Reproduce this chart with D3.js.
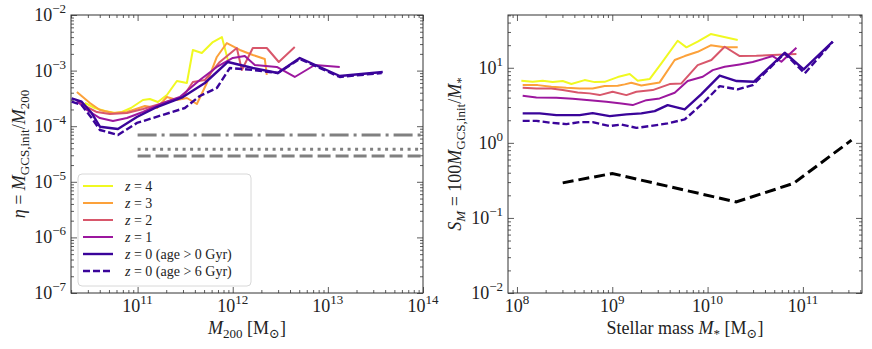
<!DOCTYPE html>
<html>
<head>
<meta charset="utf-8">
<script src="https://cdn.jsdelivr.net/npm/d3@7"></script>
<style>
  body { margin: 0; background: #fff; }
  svg text { font-family: "Liberation Serif", "DejaVu Serif", serif; fill: #222; }
</style>
</head>
<body>
<div id="chart"></div>
<script>
// ---- data (log10 values) ----
const seriesNames = ["z4", "z3", "z2", "z1", "z0", "z0old"];
const seriesColors = ["#f0f921", "#fca13a", "#d8576b", "#9c179e", "#3a049a", "#3a049a"];
const legendLabels = [["4", ""], ["3", ""], ["2", ""], ["1", ""], ["0", " (age > 0 Gyr)"], ["0", " (age > 6 Gyr)"]];

// left panel: log10 M200 and log10 eta
const haloLogM_z4 = [10.446, 10.551, 10.657, 10.762, 10.835, 10.930, 11.056, 11.129, 11.213, 11.308, 11.413, 11.518, 11.581, 11.675, 11.791, 11.886, 11.949];
const etaLog_z4   = [-3.583, -3.673, -3.727, -3.763, -3.745, -3.673, -3.529, -3.511, -3.565, -3.439, -3.187, -3.223, -2.629, -2.683, -2.486, -2.396, -2.809];
const haloLogM_z3 = [10.362, 10.499, 10.604, 10.741, 10.888, 11.077, 11.203, 11.308, 11.413, 11.518, 11.623, 11.728, 11.833, 11.938, 12.075, 12.211, 12.337, 12.358];
const etaLog_z3   = [-3.385, -3.583, -3.709, -3.763, -3.745, -3.637, -3.673, -3.475, -3.529, -3.493, -3.601, -3.223, -2.755, -2.504, -2.629, -2.719, -2.791, -3.079];
const haloLogM_z2 = [10.362, 10.467, 10.572, 10.709, 10.888, 11.056, 11.234, 11.371, 11.476, 11.581, 11.707, 11.864, 12.043, 12.096, 12.211, 12.358, 12.484, 12.652];
const etaLog_z2   = [-3.529, -3.655, -3.745, -3.781, -3.763, -3.691, -3.601, -3.529, -3.475, -3.205, -3.169, -2.845, -2.594, -2.989, -2.594, -2.594, -2.845, -2.576];
const haloLogM_z1 = [10.362, 10.467, 10.604, 10.741, 10.888, 11.056, 11.266, 11.444, 11.654, 11.833, 12.001, 12.127, 12.232, 12.463, 12.652, 12.862, 13.125];
const etaLog_z1   = [-3.547, -3.709, -3.853, -3.906, -3.853, -3.745, -3.583, -3.475, -3.169, -2.935, -2.773, -2.737, -2.899, -2.935, -3.115, -2.899, -2.935];
const haloLogM_z0 = [10.307, 10.412, 10.517, 10.604, 10.793, 10.993, 11.203, 11.476, 11.707, 11.949, 12.211, 12.474, 12.705, 13.125, 13.577];
const etaLog_z0   = [-3.498, -3.559, -3.763, -4.009, -4.050, -3.835, -3.655, -3.475, -3.223, -2.845, -2.953, -3.043, -2.773, -3.097, -3.025];
const haloLogM_z0old = [10.307, 10.412, 10.517, 10.604, 10.793, 10.993, 11.497, 11.654, 11.833, 11.970, 12.211, 12.474, 12.705, 13.125, 13.566];
const etaLog_z0old   = [-3.559, -3.619, -3.853, -4.068, -4.158, -3.942, -3.673, -3.457, -3.313, -2.953, -2.989, -3.043, -2.791, -3.115, -3.043];

// horizontal reference levels (eta), drawn from 1e11 upward
const refEta = [6.95e-5, 3.84e-5, 2.91e-5];
const refDash = ["19,5,3,5", "3,4.5", "13,5"];
const refStartM = 1e11;

// right panel: log10 M* and log10 S_M
const starLogM_z4 = [8.046, 8.165, 8.270, 8.375, 8.480, 8.571, 8.710, 8.815, 8.920, 9.057, 9.183, 9.267, 9.392, 9.515, 9.686, 9.778, 9.896, 10.033, 10.316];
const sLog_z4     = [0.827, 0.813, 0.827, 0.809, 0.823, 0.783, 0.836, 0.809, 0.813, 0.876, 0.916, 0.827, 0.849, 1.059, 1.360, 1.272, 1.347, 1.449, 1.369];
const starLogM_z3 = [8.060, 8.217, 8.361, 8.518, 8.658, 8.794, 8.920, 9.057, 9.130, 9.200, 9.305, 9.497, 9.655, 9.760, 9.896, 10.033, 10.179, 10.316];
const sLog_z3     = [0.769, 0.769, 0.747, 0.733, 0.725, 0.725, 0.756, 0.760, 0.779, 0.800, 0.765, 0.805, 1.103, 1.156, 1.213, 1.299, 1.272, 1.272];
const starLogM_z2 = [8.060, 8.204, 8.361, 8.480, 8.637, 8.763, 8.868, 9.004, 9.148, 9.253, 9.424, 9.602, 9.725, 9.896, 10.040, 10.179, 10.337, 10.512, 10.683, 10.932];
const sLog_z2     = [0.733, 0.725, 0.725, 0.703, 0.672, 0.659, 0.636, 0.680, 0.636, 0.680, 0.703, 0.783, 0.792, 1.036, 1.103, 1.280, 1.156, 1.160, 1.169, 1.183];
const starLogM_z1 = [8.060, 8.204, 8.413, 8.584, 8.763, 8.938, 9.095, 9.214, 9.358, 9.497, 9.655, 9.791, 9.949, 10.054, 10.179, 10.337, 10.473, 10.683, 10.774, 10.932];
const sLog_z1     = [0.627, 0.605, 0.600, 0.587, 0.569, 0.547, 0.525, 0.503, 0.569, 0.592, 0.667, 0.823, 0.880, 0.969, 1.013, 1.045, 1.076, 1.156, 1.080, 1.267];
const starLogM_z0 = [8.060, 8.238, 8.413, 8.658, 8.794, 8.973, 9.148, 9.305, 9.445, 9.581, 9.760, 9.935, 10.127, 10.305, 10.484, 10.652, 10.809, 11.008, 11.313];
const sLog_z0     = [0.392, 0.392, 0.369, 0.369, 0.396, 0.356, 0.379, 0.392, 0.423, 0.503, 0.445, 0.649, 0.896, 0.823, 0.813, 1.013, 1.200, 0.979, 1.347];
const starLogM_z0old = [8.060, 8.204, 8.361, 8.518, 8.658, 8.794, 8.973, 9.095, 9.253, 9.392, 9.581, 9.760, 9.949, 10.127, 10.316, 10.473, 10.652, 10.809, 11.019, 11.313];
const sLog_z0old     = [0.293, 0.293, 0.267, 0.249, 0.276, 0.276, 0.223, 0.245, 0.200, 0.223, 0.259, 0.312, 0.525, 0.756, 0.712, 0.769, 0.996, 1.192, 0.925, 1.347];

// observed relation (black dashed)
const obsLogM = [8.48, 9.00, 10.30, 10.90, 11.51];
const obsLogS = [-0.533, -0.408, -0.787, -0.541, 0.036];

const leftX = { z4: haloLogM_z4, z3: haloLogM_z3, z2: haloLogM_z2, z1: haloLogM_z1, z0: haloLogM_z0, z0old: haloLogM_z0old };
const leftY = { z4: etaLog_z4, z3: etaLog_z3, z2: etaLog_z2, z1: etaLog_z1, z0: etaLog_z0, z0old: etaLog_z0old };
const rightX = { z4: starLogM_z4, z3: starLogM_z3, z2: starLogM_z2, z1: starLogM_z1, z0: starLogM_z0, z0old: starLogM_z0old };
const rightY = { z4: sLog_z4, z3: sLog_z3, z2: sLog_z2, z1: sLog_z1, z0: sLog_z0, z0old: sLog_z0old };

// ---- layout ----
const W = 872, H = 349;
const svg = d3.select("#chart").append("svg").attr("width", W).attr("height", H);

const leftPanel = { x0: 71, x1: 423, y0: 15, y1: 293,
  xDom: [Math.pow(10, 10.3), 1e14], yDom: [1e-7, 1e-2],
  xMajor: [11, 12, 13, 14], yMajor: [-7, -6, -5, -4, -3, -2] };
const rightPanel = { x0: 508, x1: 862, y0: 15, y1: 293,
  xDom: [Math.pow(10, 7.906), Math.pow(10, 11.62)], yDom: [1e-2, Math.pow(10, 1.703)],
  xMajor: [8, 9, 10, 11], yMajor: [-2, -1, 0, 1] };

function minorTicks(dom) {
  const out = [];
  const lo = Math.floor(Math.log10(dom[0])), hi = Math.ceil(Math.log10(dom[1]));
  for (let e = lo; e <= hi; e++) {
    for (let m = 2; m <= 9; m++) {
      const v = m * Math.pow(10, e);
      if (v >= dom[0] && v <= dom[1]) out.push(v);
    }
  }
  return out;
}

function powLabel(sel, exp, anchor) {
  sel.attr("text-anchor", anchor).attr("font-size", 18);
  sel.append("tspan").text("10");
  sel.append("tspan").attr("dy", -8).attr("font-size", 13).text(exp < 0 ? "\u2212" + (-exp) : String(exp));
}

function drawFrame(p) {
  const x = d3.scaleLog().domain(p.xDom).range([p.x0, p.x1]);
  const y = d3.scaleLog().domain(p.yDom).range([p.y1, p.y0]);
  const g = svg.append("g");
  const xMaj = p.xMajor.map(e => Math.pow(10, e));
  const yMaj = p.yMajor.map(e => Math.pow(10, e));
  const xMin = minorTicks(p.xDom), yMin = minorTicks(p.yDom);
  const tickStyle = s => s.call(a => a.select(".domain").remove())
    .selectAll("line").attr("stroke", "#333").attr("stroke-width", 0.8);

  g.append("g").attr("transform", `translate(0,${p.y1})`)
    .call(d3.axisBottom(x).tickValues(xMaj).tickSize(-6).tickFormat("")).call(tickStyle);
  g.append("g").attr("transform", `translate(0,${p.y1})`)
    .call(d3.axisBottom(x).tickValues(xMin).tickSize(-3).tickFormat("")).call(tickStyle);
  g.append("g").attr("transform", `translate(0,${p.y0})`)
    .call(d3.axisTop(x).tickValues(xMaj).tickSize(-6).tickFormat("")).call(tickStyle);
  g.append("g").attr("transform", `translate(0,${p.y0})`)
    .call(d3.axisTop(x).tickValues(xMin).tickSize(-3).tickFormat("")).call(tickStyle);
  g.append("g").attr("transform", `translate(${p.x0},0)`)
    .call(d3.axisLeft(y).tickValues(yMaj).tickSize(-6).tickFormat("")).call(tickStyle);
  g.append("g").attr("transform", `translate(${p.x0},0)`)
    .call(d3.axisLeft(y).tickValues(yMin).tickSize(-3).tickFormat("")).call(tickStyle);
  g.append("g").attr("transform", `translate(${p.x1},0)`)
    .call(d3.axisRight(y).tickValues(yMaj).tickSize(-6).tickFormat("")).call(tickStyle);
  g.append("g").attr("transform", `translate(${p.x1},0)`)
    .call(d3.axisRight(y).tickValues(yMin).tickSize(-3).tickFormat("")).call(tickStyle);

  g.append("rect").attr("x", p.x0).attr("y", p.y0)
    .attr("width", p.x1 - p.x0).attr("height", p.y1 - p.y0)
    .attr("fill", "none").attr("stroke", "#333").attr("stroke-width", 1);

  p.xMajor.forEach(e => {
    g.append("text").attr("x", x(Math.pow(10, e))).attr("y", p.y1 + 19).call(s => powLabel(s, e, "middle"));
  });
  p.yMajor.forEach(e => {
    g.append("text").attr("x", p.x0 - 5).attr("y", y(Math.pow(10, e)) + 6).call(s => powLabel(s, e, "end"));
  });
  return { x, y, g };
}

svg.append("clipPath").attr("id", "clipL").append("rect")
  .attr("x", leftPanel.x0).attr("y", leftPanel.y0)
  .attr("width", leftPanel.x1 - leftPanel.x0).attr("height", leftPanel.y1 - leftPanel.y0);
svg.append("clipPath").attr("id", "clipR").append("rect")
  .attr("x", rightPanel.x0).attr("y", rightPanel.y0)
  .attr("width", rightPanel.x1 - rightPanel.x0).attr("height", rightPanel.y1 - rightPanel.y0);

// ---- left panel ----
const L = drawFrame(leftPanel);
const lLines = svg.append("g").attr("clip-path", "url(#clipL)");

refEta.forEach((v, i) => {
  lLines.append("line")
    .attr("x1", L.x(refStartM)).attr("x2", L.x(leftPanel.xDom[1]))
    .attr("y1", L.y(v)).attr("y2", L.y(v))
    .attr("stroke", "#808080").attr("stroke-width", 3)
    .attr("stroke-dasharray", refDash[i]);
});

seriesNames.forEach((name, i) => {
  const xs = leftX[name], ys = leftY[name];
  const pts = xs.map((lx, k) => [Math.pow(10, lx), Math.pow(10, ys[k])]);
  lLines.append("path")
    .attr("d", d3.line().x(d => L.x(d[0])).y(d => L.y(d[1]))(pts))
    .attr("fill", "none").attr("stroke", seriesColors[i])
    .attr("stroke-width", i >= 4 ? 2.4 : 2)
    .attr("stroke-linejoin", "round")
    .attr("stroke-dasharray", name === "z0old" ? "7,3" : null);
});

// ---- right panel ----
const R = drawFrame(rightPanel);
const rLines = svg.append("g").attr("clip-path", "url(#clipR)");

seriesNames.forEach((name, i) => {
  const xs = rightX[name], ys = rightY[name];
  const pts = xs.map((lx, k) => [Math.pow(10, lx), Math.pow(10, ys[k])]);
  rLines.append("path")
    .attr("d", d3.line().x(d => R.x(d[0])).y(d => R.y(d[1]))(pts))
    .attr("fill", "none").attr("stroke", seriesColors[i])
    .attr("stroke-width", i >= 4 ? 2.4 : 2)
    .attr("stroke-linejoin", "round")
    .attr("stroke-dasharray", name === "z0old" ? "7,3" : null);
});

const obsPts = obsLogM.map((m, k) => [Math.pow(10, m), Math.pow(10, obsLogS[k])]);
rLines.append("path")
  .attr("d", d3.line().x(d => R.x(d[0])).y(d => R.y(d[1]))(obsPts))
  .attr("fill", "none").attr("stroke", "#000").attr("stroke-width", 3)
  .attr("stroke-dasharray", "11,5");

// ---- legend ----
const leg = svg.append("g").attr("transform", "translate(78,174)");
leg.append("rect").attr("width", 173).attr("height", 112).attr("rx", 4)
  .attr("fill", "#fff").attr("fill-opacity", 0.8).attr("stroke", "#d8d8d8");
legendLabels.forEach((lab, i) => {
  const yy = 12 + i * 17;
  leg.append("line").attr("x1", 5).attr("x2", 35).attr("y1", yy).attr("y2", yy)
    .attr("stroke", seriesColors[i]).attr("stroke-width", i >= 4 ? 2.4 : 2)
    .attr("stroke-dasharray", i === 5 ? "7,3" : null);
  const t = leg.append("text").attr("x", 47).attr("y", yy + 5).attr("font-size", 14);
  t.append("tspan").attr("font-style", "italic").text("z");
  t.append("tspan").text(" = " + lab[0] + lab[1]);
});

// ---- axis titles ----
const xt1 = svg.append("text").attr("x", (leftPanel.x0 + leftPanel.x1) / 2).attr("y", 334)
  .attr("text-anchor", "middle").attr("font-size", 18);
xt1.append("tspan").attr("font-style", "italic").text("M");
xt1.append("tspan").attr("dy", 4).attr("font-size", 13).text("200");
xt1.append("tspan").attr("dy", -4).text(" [M");
xt1.append("tspan").attr("dy", 4).attr("font-size", 13).text("\u2299");
xt1.append("tspan").attr("dy", -4).text("]");

const xt2 = svg.append("text").attr("x", (rightPanel.x0 + rightPanel.x1) / 2).attr("y", 334)
  .attr("text-anchor", "middle").attr("font-size", 18);
xt2.append("tspan").text("Stellar mass ");
xt2.append("tspan").attr("font-style", "italic").text("M");
xt2.append("tspan").attr("dy", 4).attr("font-size", 13).text("*");
xt2.append("tspan").attr("dy", -4).text(" [M");
xt2.append("tspan").attr("dy", 4).attr("font-size", 13).text("\u2299");
xt2.append("tspan").attr("dy", -4).text("]");

const yt1 = svg.append("text").attr("transform", `translate(25,${(leftPanel.y0 + leftPanel.y1) / 2}) rotate(-90)`)
  .attr("text-anchor", "middle").attr("font-size", 18);
yt1.append("tspan").attr("font-style", "italic").text("\u03b7");
yt1.append("tspan").text(" = ");
yt1.append("tspan").attr("font-style", "italic").text("M");
yt1.append("tspan").attr("dy", 4).attr("font-size", 13).text("GCS,init");
yt1.append("tspan").attr("dy", -4).text("/");
yt1.append("tspan").attr("font-style", "italic").text("M");
yt1.append("tspan").attr("dy", 4).attr("font-size", 13).text("200");

const yt2 = svg.append("text").attr("transform", `translate(461,${(rightPanel.y0 + rightPanel.y1) / 2}) rotate(-90)`)
  .attr("text-anchor", "middle").attr("font-size", 18);
yt2.append("tspan").attr("font-style", "italic").text("S");
yt2.append("tspan").attr("dy", 4).attr("font-size", 13).attr("font-style", "italic").text("M");
yt2.append("tspan").attr("dy", -4).text(" = 100");
yt2.append("tspan").attr("font-style", "italic").text("M");
yt2.append("tspan").attr("dy", 4).attr("font-size", 13).text("GCS,init");
yt2.append("tspan").attr("dy", -4).text("/");
yt2.append("tspan").attr("font-style", "italic").text("M");
yt2.append("tspan").attr("dy", 4).attr("font-size", 13).text("*");
</script>
</body>
</html>
